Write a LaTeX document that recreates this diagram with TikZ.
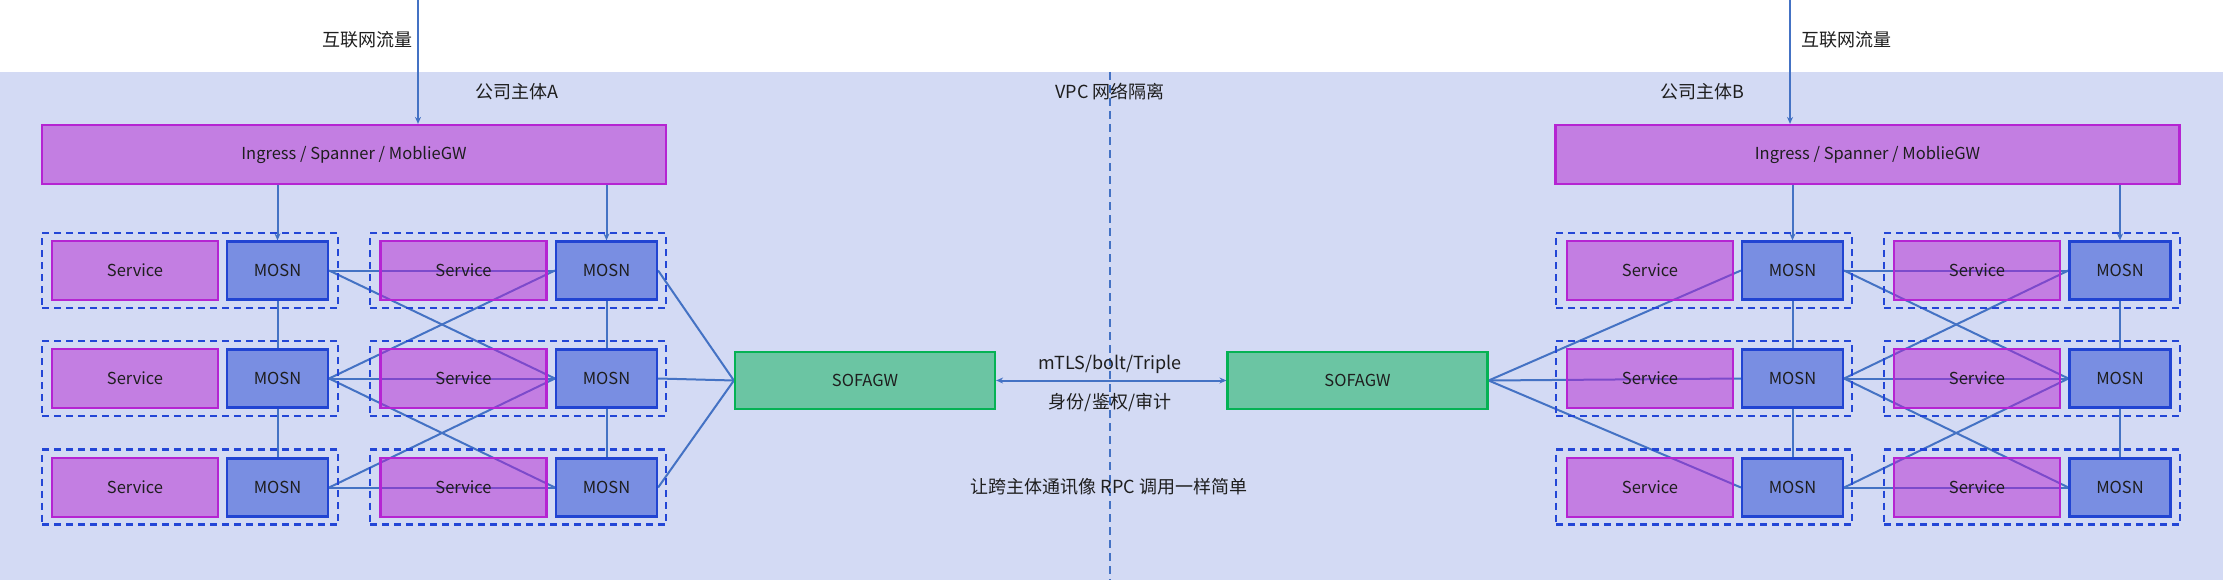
\documentclass[tikz,border=0pt]{standalone}
\usepackage{fontspec}
\setmainfont{Noto Sans CJK SC}
\usetikzlibrary{arrows.meta}
\definecolor{bgblue}{HTML}{D3DAF4}
\definecolor{svcC}{HTML}{B524D2}
\definecolor{mosnC}{HTML}{2144D2}
\definecolor{gwC}{HTML}{05B254}
\definecolor{lineC}{HTML}{4472C4}
\definecolor{dashC}{HTML}{2346D6}
\definecolor{txtC}{HTML}{1E1E1E}
\pgfdeclarelayer{bglayer}
\pgfdeclarelayer{linelayer}
\pgfsetlayers{bglayer,linelayer,main}
\tikzset{
  box/.style={rectangle, inner sep=0pt, line width=2.2pt, fill opacity=0.5, text opacity=1,
    font=\fontsize{16.5}{18}\selectfont, text=txtC},
  svc/.style={box, draw=svcC, fill=svcC, minimum width=166pt, minimum height=59pt},
  mosn/.style={box, draw=mosnC, fill=mosnC, minimum width=101pt, minimum height=58pt},
  gw/.style={box, draw=gwC, fill=gwC, minimum width=260pt, minimum height=57pt},
  ingress/.style={box, draw=svcC, fill=svcC, minimum width=624pt, minimum height=59pt},
  grp/.style={rectangle, draw=dashC, line width=2.2pt, dash pattern=on 7pt off 5pt,
    inner sep=0pt, minimum width=296pt, minimum height=75pt},
  conn/.style={draw=lineC, line width=2pt},
  arr/.style={conn, -{Stealth[length=7pt,width=6pt]}},
  darr/.style={conn, {Stealth[length=7pt,width=6pt]}-{Stealth[length=7pt,width=6pt]}},
  lbl/.style={font=\fontsize{18}{20}\selectfont, text=txtC, inner sep=0pt},
  vpcline/.style={draw=lineC, line width=2pt, dash pattern=on 8pt off 5pt}
}
\begin{document}
\begin{tikzpicture}[x=1pt,y=-1pt]
\begin{pgfonlayer}{bglayer}
  \fill[white] (0,0) rectangle (2223,583);
  \fill[bgblue] (0,72) rectangle (2223,580);
\end{pgfonlayer}
\useasboundingbox (0,0) rectangle (2223,583);

% labels
\node[lbl] (netA) at (367,40) {互联网流量};
\node[lbl] (netB) at (1846,40) {互联网流量};
\node[lbl] (entA) at (517,92) {公司主体A};
\node[lbl] (entB) at (1702,92) {公司主体B};
\node[lbl] (vpc) at (1110,92) {VPC 网络隔离};
\node[lbl] (proto) at (1110,364) {mTLS/bolt/Triple};
\node[lbl] (auth) at (1110,402) {身份/鉴权/审计};
\node[lbl] (slogan) at (1109,487) {让跨主体通讯像 RPC 调用一样简单};

\coordinate (vtop) at (1110,72);
\coordinate (vbot) at (1110,580);
\coordinate (inA) at (418,0);
\coordinate (inB) at (1790,0);

% ingress
\node[ingress] (ingA) at (354,154.5) {Ingress / Spanner / MoblieGW};
\node[ingress] (ingB) at (1867.5,154.5) {Ingress / Spanner / MoblieGW};

% groups
\foreach \r/\y/\gy in {1/270.5/270.5,2/378.5/378.5,3/487.5/487}{
  \node[grp] (gA1\r) at (190,\gy) {};
  \node[grp] (gA2\r) at (518,\gy) {};
  \node[grp] (gB1\r) at (1704,\gy) {};
  \node[grp] (gB2\r) at (2032,\gy) {};
  \node[svc] (sA1\r) at (135,\y) {Service};
  \node[mosn] (mA1\r) at (277.5,\y) {MOSN};
  \node[svc] (sA2\r) at (463.5,\y) {Service};
  \node[mosn] (mA2\r) at (606.5,\y) {MOSN};
  \node[svc] (sB1\r) at (1650,\y) {Service};
  \node[mosn] (mB1\r) at (1792.5,\y) {MOSN};
  \node[svc] (sB2\r) at (1977,\y) {Service};
  \node[mosn] (mB2\r) at (2120,\y) {MOSN};
}

% gateways
\node[gw] (gwA) at (865,380.5) {SOFAGW};
\node[gw] (gwB) at (1357.5,380.5) {SOFAGW};

\begin{pgfonlayer}{linelayer}
  \draw[vpcline] (vtop) -- (vbot);
  \draw[arr] (inA) -- (ingA.north -| inA);
  \draw[arr] (inB) -- (ingB.north -| inB);
  \draw[arr] (ingA.south -| mA11) -- (mA11.north);
  \draw[arr] (ingA.south -| mA21) -- (mA21.north);
  \draw[arr] (ingB.south -| mB11) -- (mB11.north);
  \draw[arr] (ingB.south -| mB21) -- (mB21.north);
  \foreach \s in {A,B}{
    \draw[conn] (m\s11.south) -- (m\s12.north);
    \draw[conn] (m\s12.south) -- (m\s13.north);
    \draw[conn] (m\s21.south) -- (m\s22.north);
    \draw[conn] (m\s22.south) -- (m\s23.north);
    \draw[conn] (m\s11.east) -- (m\s21.west);
    \draw[conn] (m\s11.east) -- (m\s22.west);
    \draw[conn] (m\s12.east) -- (m\s21.west);
    \draw[conn] (m\s12.east) -- (m\s22.west);
    \draw[conn] (m\s12.east) -- (m\s23.west);
    \draw[conn] (m\s13.east) -- (m\s22.west);
    \draw[conn] (m\s13.east) -- (m\s23.west);
  }
  \foreach \r in {1,2,3}{
    \draw[conn] (mA2\r.east) -- (gwA.west);
    \draw[conn] (gwB.east) -- (mB1\r.west);
  }
  \draw[darr] (gwA.east) -- (gwB.west);
\end{pgfonlayer}
\end{tikzpicture}
\end{document}
